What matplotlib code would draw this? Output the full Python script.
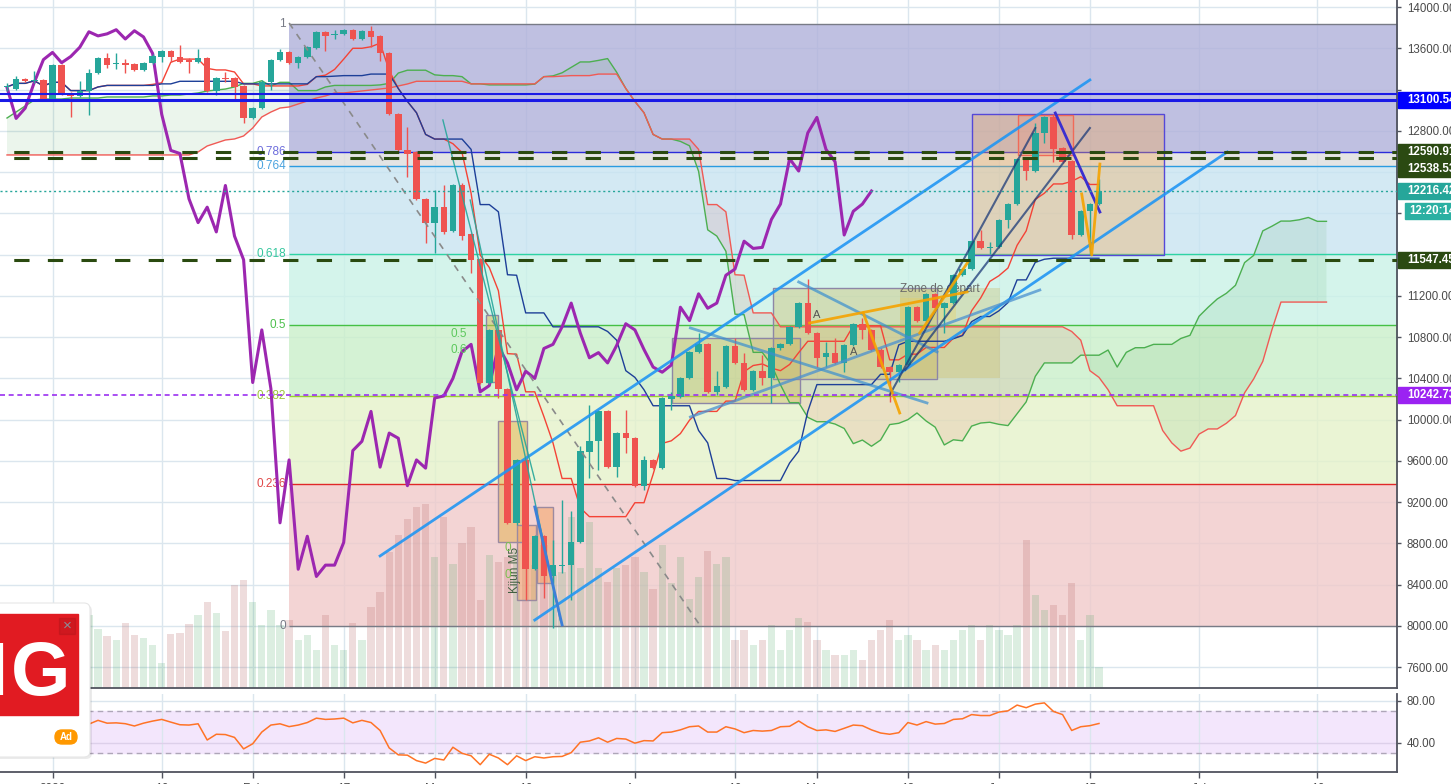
import numpy as np
import pandas as pd
import matplotlib
matplotlib.use("Agg")
import matplotlib.pyplot as plt
from matplotlib.patches import Rectangle, FancyBboxPatch

plt.rcParams['font.family'] = ['Liberation Sans', 'DejaVu Sans']

W, H = 1451, 784

# daily DAX candles, bar 0 = 23 Dec 2019
opens = [13220, 13210, 13300, 13280, 13290, 13110, 13440, 13170, 13140, 13190,
         13360, 13510, 13450, 13460, 13450, 13390, 13460, 13520, 13570, 13520,
         13480, 13470, 13510, 13190, 13310, 13310, 13230, 12920, 13020, 13270,
         13490, 13560, 13460, 13520, 13600, 13760, 13730, 13740, 13780, 13690,
         13770, 13720, 13550, 12960, 12610, 12590, 12140, 11910, 12060, 11830,
         12270, 11800, 11560, 10360, 10870, 10300, 9000, 9610, 8550, 8870,
         8480, 8580, 8590, 8810, 9690, 9790, 10080, 9540, 9870, 9820,
         9360, 9610, 9530, 10200, 10220, 10400, 10660, 10730, 10270, 10320,
         10710, 10550, 10290, 10470, 10400, 10690, 10730, 10900, 11130, 10840,
         10610, 10650, 10550, 10720, 10930, 10870, 10680, 10510, 10460, 10530,
         11090, 10960, 11220, 11080, 11130, 11400, 11460, 11730, 11660, 11670,
         11940, 12090, 12530, 12410, 12780, 12930, 12630, 12510, 11790, 12020,
         12090]
highs = [13260, 13330, 13310, 13380, 13300, 13450, 13450, 13180, 13280, 13400,
         13520, 13550, 13550, 13500, 13460, 13470, 13540, 13580, 13580, 13630,
         13510, 13590, 13520, 13320, 13370, 13320, 13240, 13030, 13290, 13500,
         13590, 13570, 13530, 13620, 13770, 13770, 13780, 13790, 13790, 13780,
         13820, 13730, 13560, 12970, 12840, 12600, 12150, 12230, 12270, 12280,
         12290, 11810, 11570, 10880, 10880, 10310, 9620, 9620, 8880, 8880,
         8830, 9220, 9110, 9740, 10140, 10090, 10090, 9880, 10090, 9830,
         9650, 9620, 10220, 10270, 10410, 10670, 10840, 10740, 10470, 10720,
         10790, 10650, 10480, 10630, 10700, 10740, 10910, 11140, 11360, 10850,
         10750, 10790, 10730, 10940, 10990, 10880, 10690, 10520, 10540, 11100,
         11100, 11230, 11230, 11140, 11410, 11470, 11740, 11840, 11720, 11950,
         12100, 12540, 12540, 12880, 12940, 12960, 12640, 12520, 12030, 12100,
         12330]
lows = [13190, 13200, 13270, 13260, 13090, 13100, 13150, 12930, 13130, 12950,
        13350, 13410, 13400, 13360, 13380, 13380, 13450, 13470, 13470, 13460,
        13360, 13460, 13180, 13150, 13270, 13110, 12880, 12910, 13010, 13200,
        13480, 13450, 13410, 13510, 13590, 13570, 13690, 13730, 13680, 13680,
        13610, 13480, 12950, 12600, 12350, 12130, 11710, 11620, 11800, 11820,
        11740, 11420, 10350, 10350, 10210, 8990, 8980, 8250, 8540, 8270,
        7980, 8510, 8250, 8800, 9430, 9510, 9530, 9440, 9680, 9350,
        9320, 9520, 9520, 10090, 10210, 10390, 10650, 10260, 10240, 10310,
        10540, 10280, 10280, 10340, 10160, 10680, 10720, 10890, 10830, 10510,
        10510, 10540, 10460, 10710, 10780, 10670, 10500, 10170, 10370, 10520,
        10950, 10950, 11070, 10840, 11120, 11390, 11450, 11650, 11610, 11660,
        11860, 12080, 12320, 12400, 12680, 12500, 12490, 11750, 11780, 11600,
        12080]
closes = [13230, 13300, 13280, 13290, 13110, 13440, 13170, 13140, 13190, 13360,
          13510, 13440, 13460, 13440, 13390, 13460, 13530, 13570, 13520, 13470,
          13470, 13510, 13190, 13310, 13300, 13220, 12920, 13020, 13270, 13490,
          13560, 13460, 13520, 13610, 13760, 13720, 13740, 13780, 13690, 13770,
          13710, 13550, 12960, 12610, 12580, 12140, 11910, 12060, 11820, 12270,
          11780, 11550, 10360, 10870, 10300, 9000, 9610, 8550, 8870, 8480,
          8590, 8590, 8810, 9700, 9790, 10080, 9540, 9870, 9820, 9360,
          9610, 9530, 10210, 10230, 10400, 10660, 10730, 10270, 10330, 10710,
          10550, 10290, 10470, 10400, 10690, 10730, 10900, 11130, 10840, 10600,
          10650, 10550, 10720, 10930, 10870, 10680, 10510, 10460, 10530, 11090,
          10960, 11220, 11080, 11130, 11400, 11460, 11730, 11660, 11670, 11940,
          12090, 12530, 12410, 12780, 12930, 12620, 12500, 11790, 12020, 12090,
          12216.42]
volume = [58, 48, 63, 43, 68, 58, 78, 53, 48, 73, 59, 52, 48, 65, 53, 50, 43, 25, 54, 55,
          64, 73, 86, 75, 57, 103, 108, 86, 63, 78, 63, 68, 48, 53, 38, 73, 43, 38, 65, 48,
          81, 96, 136, 153, 169, 181, 184, 131, 171, 124, 145, 161, 88, 133, 126, 131, 138, 148, 123, 143,
          113, 116, 171, 120, 166, 120, 106, 120, 123, 131, 116, 99, 143, 105, 131, 89, 111, 137, 124, 131,
          48, 58, 43, 48, 63, 38, 58, 70, 66, 48, 38, 33, 33, 38, 28, 48, 58, 68, 48, 53,
          48, 38, 43, 38, 48, 58, 63, 48, 63, 58, 53, 63, 148, 93, 78, 83, 73, 105, 48, 73,
          21]

rsi_start = 9
rsi = [57.6, 61.2, 58.5, 58.8, 58.0, 55.8, 58.5, 60.5, 62.1, 59.5,
       57.0, 56.7, 57.9, 42.4, 47.9, 47.6, 44.9, 33.9, 38.8, 50.0,
       56.7, 57.9, 55.2, 56.7, 59.1, 63.3, 62.1, 62.5, 63.3, 58.8,
       61.2, 59.1, 51.5, 34.8, 28.2, 27.9, 22.7, 20.3, 24.8, 23.3,
       35.5, 29.7, 27.3, 18.8, 28.8, 25.2, 18.8, 27.3, 22.7, 26.4,
       25.2, 26.4, 26.7, 30.3, 40.3, 41.5, 44.5, 40.3, 43.9, 43.3,
       39.4, 41.8, 41.5, 49.4, 50.0, 52.1, 55.1, 55.8, 50.0, 50.0,
       55.1, 53.0, 49.4, 51.5, 50.9, 51.5, 55.1, 55.5, 60.6, 55.1,
       51.5, 52.1, 50.6, 53.6, 56.7, 56.1, 52.1, 49.1, 47.9, 49.4,
       59.1, 56.7, 60.0, 57.6, 58.2, 62.1, 62.7, 66.7, 65.8, 65.8,
       69.1, 70.3, 75.8, 73.3, 76.7, 77.9, 69.7, 66.7, 51.5, 55.1,
       56.1, 58.2]

# cloud values that come from bars before the visible window
spana_early = [12924, 12982, 13041, 13099, 13108, 13108, 13108, 13118, 13118, 13118,
               13118, 13128, 13128, 13128, 13128, 13128, 13138, 13138, 13147, 13147,
               13157, 13167, 13186, 13196, 13205]
spanb_early = [12566, 12566, 12566, 12566, 12566, 12566, 12566, 12566, 12566, 12566,
               12566, 12566, 12566, 12566, 12566, 12566, 12566, 12566, 12566, 12566,
               12566, 12595, 12653, 12682, 12711, 12721, 12750, 12827, 12934, 12982,
               13021, 13031, 13060, 13089, 13118, 13138, 13167, 13167, 13176, 13186,
               13196, 13205, 13215, 13234, 13254]

date_ticks = [5, 17, 27, 37, 47, 57, 69, 80, 89, 99, 109, 119, 131, 144]
date_labels = ["2020", "16", "Feb", "17", "Mar", "16", "Apr", "16", "May", "18", "Jun", "15", "Jul", "16"]
price_ticks = list(range(7600, 14001, 400))

fib_high = 13840
fib_low = 8000
fib_start = 31
fib_levels = [1, 0.786, 0.764, 0.618, 0.5, 0.382, 0.236, 0]
fib_texts = ["1", "0.786", "0.764", "0.618", "0.5", "0.382", "0.236", "0"]

tags = [(13100.54, "13100.54", "#0000ff"), (12590.91, "12590.91", "#2b4a12"),
        (12538.53, "12538.53", "#2b4a12"), (12216.42, "12216.42", "#26a69a"),
        (11547.45, "11547.45", "#2b4a12"), (10242.73, "10242.73", "#9b22f2")]

# chart drawings, anchors as (bar, price)
channel_lines = [([41.0, 119.0], [8679, 13293]), ([58.0, 134.1], [8058, 12595])]
support_line = ([75.1, 113.5], [10026, 11257])
falling_lines = [([75.1, 101.1], [10889, 10162]), ([87.0, 102.2], [11335, 10656])]
wedge_lines = [([97.0, 113.0], [10239, 12827]), ([98.7, 119.0], [10482, 12827])]
drop_lines = [([47.9, 58.0], [12905, 9415]), ([50.9, 60.8], [12129, 8058])]
m5_line = ([58.0, 61.0], [9154, 8010])
swing_line = ([115.2, 120.1], [12973, 12013])
orange_lines = [([88.2, 105.5], [10937, 11238]), ([94.1, 98.1], [11034, 10065]),
                ([100.3, 105.6], [10840, 11528]), ([118.1, 119.2, 120.1], [12188, 11596, 12478])]
fib_diag = ([31.0, 76.2], [13845, 8000])
boxes = [(73.1, 10792, 87.1, 10162), (84.2, 11276, 102.2, 10394), (98.1, 11276, 109.1, 10404),
         (106.0, 12963, 127.1, 11596), (111.1, 12953, 117.1, 12566), (52.6, 11015, 54.0, 10365),
         (54.0, 9987, 57.1, 8815), (58.2, 9154, 60.0, 8417), (56.0, 8979, 58.1, 8252),
         (98.1, 11180, 104.3, 10966)]
box_face = ["#c9b458", "#c9b458", "#c9b458", "#f4a850", "#f28a70", "#d9b74c", "#e3b04a", "#f3a05a", "#f3a05a", "#e8d060"]
box_alpha = [0.4, 0.35, 0.3, 0.35, 0.25, 0.5, 0.5, 0.5, 0.45, 0.35]
box_edge = ["#8d86a6", "#8d86a6", "none", "#5548d8", "#f06a58", "#8d86a6", "#9c8aa0", "#9c8aa0", "#9c8aa0", "none"]

XLIM = (-0.77, 152.75)
YLIM = (7399, 14068)


def setup_axes(fig):
    rect = [0, 96 / H, 1397 / W, 688 / H]
    ax_bg = fig.add_axes(rect)
    ax_vol = fig.add_axes(rect, sharex=ax_bg)
    ax = fig.add_axes(rect, sharex=ax_bg)
    ax_rsi = fig.add_axes([0, 12 / H, 1397 / W, 78 / H], sharex=ax_bg)
    ax_bg.set_zorder(0)
    ax_vol.set_zorder(1)
    ax.set_zorder(2)
    for a in (ax_vol, ax):
        a.patch.set_visible(False)
    for a in (ax_bg, ax_vol):
        a.axis('off')
    ax_bg.set_xlim(*XLIM)
    ax_bg.set_ylim(*YLIM)
    ax.set_ylim(*YLIM)
    ax_vol.set_ylim(0, 688)
    ax_rsi.set_ylim(11.8, 86.4)
    for a in (ax, ax_rsi):
        for s in ('top', 'left'):
            a.spines[s].set_visible(False)
        for s in ('right', 'bottom'):
            a.spines[s].set_color('#50535e')
            a.spines[s].set_linewidth(1.3)
    return ax_bg, ax_vol, ax, ax_rsi


def draw_background(ax_bg, ax_rsi):
    for t in date_ticks:
        ax_bg.axvline(t, color='#dbe6ee', lw=1, zorder=0.5)
        ax_rsi.axvline(t, color='#dbe6ee', lw=1, zorder=0.5)
    for p in price_ticks:
        ax_bg.axhline(p, color='#dbe6ee', lw=1, zorder=0.5)
    fills = ["#b0b1da", "#dedede", "#c8e4f1", "#caf2e7", "#caefca", "#e5f2ca", "#f0caca"]
    prices = [fib_low + lv * (fib_high - fib_low) for lv in fib_levels]
    for k in range(len(fills)):
        ax_bg.fill_between([fib_start, 160], prices[k + 1], prices[k], color=fills[k], alpha=0.8, lw=0, zorder=1)
    # rsi panel
    ax_rsi.axhspan(30, 70, color='#f3e6fc', zorder=0.3)
    ax_rsi.axhline(80, color='#dbe6ee', lw=1, zorder=0.5)
    ax_rsi.axhline(40, color='#ddd0ea', lw=1, zorder=0.5)
    for lv in (70, 30):
        ax_rsi.axhline(lv, color='#aea6b8', lw=1, ls=(0, (4, 3)), zorder=1)
    ax_rsi.plot(np.arange(rsi_start, rsi_start + len(rsi)), rsi, color='#ff7326', lw=1.1, zorder=3)


def draw_fib(ax):
    line_cols = ['#787b86', '#2b2bd9', '#2a9be0', '#2ed3a4', '#45c045', '#9acd32', '#e02828', '#787b86']
    text_cols = ['#787b86', '#6d6ddc', '#4aa3df', '#35c79e', '#4cc04c', '#9cc43a', '#e04848', '#787b86']
    for lv, txt, lc, tc in zip(fib_levels, fib_texts, line_cols, text_cols):
        p = fib_low + lv * (fib_high - fib_low)
        ax.hlines(p, fib_start, 160, colors=lc, lw=1, zorder=2.5)
        ax.text(fib_start - 0.35, p, txt, ha='right', va='center', color=tc, fontsize=8.5, zorder=2.5)
    ax.plot(*fib_diag, color='#8a8a8a', lw=1.2, ls=(0, (4, 4)), zorder=8)


def draw_candles(ax, ax_vol):
    idx = np.arange(len(closes))
    o = np.array(opens, float)
    c = np.array(closes, float)
    up = c >= o
    col = np.where(up, '#26a69a', '#ef5350')
    vcol = [(0.24, 0.63, 0.35, 0.18) if u else (0.71, 0.39, 0.39, 0.22) for u in up]
    ax_vol.bar(idx, volume, width=0.8, color=vcol, lw=0)
    ax.vlines(idx, lows, highs, colors=col, lw=1, zorder=6)
    ax.bar(idx, np.maximum(np.abs(c - o), 12), bottom=np.minimum(o, c), width=0.72, color=col, lw=0, zorder=7)


def draw_ichimoku(ax):
    hi = pd.Series(highs, dtype=float)
    lo = pd.Series(lows, dtype=float)
    tenkan = (hi.rolling(9, min_periods=1).max() + lo.rolling(9, min_periods=1).min()) / 2
    kijun = (hi.rolling(26, min_periods=1).max() + lo.rolling(26, min_periods=1).min()) / 2
    mid52 = (hi.rolling(52, min_periods=1).max() + lo.rolling(52, min_periods=1).min()) / 2
    shift = 25
    span_a = np.concatenate([spana_early, ((tenkan + kijun) / 2).values])
    span_b = np.concatenate([spanb_early, mid52.values[len(spanb_early) - shift:]])
    cx = np.arange(len(span_a))
    ax.fill_between(cx, span_a, span_b, where=span_a >= span_b, interpolate=True, color='#43a047', alpha=0.1, lw=0, zorder=2)
    ax.fill_between(cx, span_a, span_b, where=span_a < span_b, interpolate=True, color='#e53935', alpha=0.1, lw=0, zorder=2)
    ax.plot(cx, span_a, color='#4caf50', lw=1, zorder=4)
    ax.plot(cx, span_b, color='#f05a55', lw=1, zorder=4)
    idx = np.arange(len(closes))
    ax.plot(idx, tenkan, color='#f44336', lw=1, zorder=5)
    ax.plot(idx, kijun, color='#1d3f98', lw=1, zorder=5)
    ax.plot(idx[:-shift], np.array(closes)[shift:], color='#9c27b0', lw=2.2, zorder=5.5)


def draw_levels(ax):
    ax.axhline(13157, color='#1a1ae6', lw=1.5, zorder=9)
    ax.axhline(13100.54, color='#1a1ae6', lw=2.2, zorder=9)
    for p in (12590.91, 12538.53, 11547.45):
        ax.axhline(p, color='#2a4a10', lw=2.2, ls=(6.5, (5, 6)), zorder=9)
    ax.axhline(10242.73, color='#9b30f0', lw=1.2, ls=(0, (3, 2.2)), zorder=9)
    ax.axhline(12216.42, color='#26a69a', lw=1, ls=(0, (1.5, 2)), zorder=9)


def draw_drawings(ax):
    for (x0, p0, x1, p1), fc, al, ec in zip(boxes, box_face, box_alpha, box_edge):
        ax.add_patch(Rectangle((x0, p1), x1 - x0, p0 - p1, facecolor=fc, alpha=al, lw=0, zorder=3))
        if ec != 'none':
            ax.add_patch(Rectangle((x0, p1), x1 - x0, p0 - p1, fill=False, edgecolor=ec, lw=1, zorder=3.1))
    for xs, ps in channel_lines:
        ax.plot(xs, ps, color='#2196f3', lw=2, alpha=0.9, zorder=8)
    ax.plot(*support_line, color='#4a90d0', lw=2, alpha=0.75, zorder=8)
    for xs, ps in falling_lines:
        ax.plot(xs, ps, color='#3a8fd0', lw=2, alpha=0.7, zorder=8)
    for xs, ps in wedge_lines:
        ax.plot(xs, ps, color='#1c3a78', lw=1.5, alpha=0.75, zorder=8)
    for xs, ps in drop_lines:
        ax.plot(xs, ps, color='#26a69a', lw=1, alpha=0.9, zorder=8)
    ax.plot(*m5_line, color='#3d7fd8', lw=2, zorder=8)
    ax.plot(*swing_line, color='#3b2fd0', lw=2, zorder=8)
    for xs, ps in orange_lines:
        ax.plot(xs, ps, color='#f5a300', lw=2, alpha=0.9, zorder=8)
    ax.text(98.1, 11270, "Zone de départ", color='#6a6a6a', fontsize=8.5, va='center', zorder=5.8)
    ax.text(88.6, 11015, "A", color='#555555', fontsize=8, va='center', zorder=5.8)
    ax.text(92.6, 10656, "A", color='#555555', fontsize=8, va='center', zorder=5.8)
    ax.text(55.8, 8543, "Kijun M5", color='#3f5f3f', fontsize=8.5, rotation=90, ha='center', va='center', zorder=5.8)
    for p, t in ((10830, "0.5"), (10675, "0.6")):
        ax.text(49.6, p, t, color='#5cc85c', fontsize=8.5, ha='center', va='center', zorder=5.8)
    for p in (8754, 8494):
        ax.text(55.0, p, "0", color='#7cc050', fontsize=8.5, ha='center', va='center', zorder=5.8)


def draw_axes_labels(ax, ax_rsi, ax_px):
    placed = []
    for value, text, color in sorted(tags, key=lambda t: -t[0]):
        y = H - ax.transData.transform((0, value))[1]
        if placed and y - placed[-1][0] < 17:
            y = placed[-1][0] + 17
        placed.append((y, text, color))
    ypos = [p[0] for p in placed]
    timer_y = [p[0] for p in placed if p[1] == "12216.42"][0] + 20
    ypos.append(timer_y)

    labels = []
    for v in price_ticks:
        ty = H - ax.transData.transform((0, v))[1]
        labels.append("" if min(abs(ty - y) for y in ypos) < 15 else f"{v:.2f}")
    ax.yaxis.tick_right()
    ax.set_yticks(price_ticks)
    ax.set_yticklabels(labels)
    ax.tick_params(axis='y', length=3, width=1, color='#50535e', pad=4, labelsize=8.3, labelcolor='#4a4a4a')
    ax.tick_params(axis='x', bottom=False, labelbottom=False)

    ax_rsi.yaxis.tick_right()
    ax_rsi.set_yticks([40, 80])
    ax_rsi.set_yticklabels(["40.00", "80.00"])
    ax_rsi.tick_params(axis='y', length=3, width=1, color='#50535e', pad=4, labelsize=8.3, labelcolor='#4a4a4a')
    ax_rsi.set_xticks(date_ticks)
    ax_rsi.set_xticklabels(date_labels)
    ax_rsi.tick_params(axis='x', length=4, width=1, color='#50535e', pad=3.6, labelsize=8.5, labelcolor='#4a4a4a')

    for y, text, color in placed:
        ax_px.add_patch(Rectangle((1398, y - 8), 60, 16, color=color, zorder=10))
        ax_px.text(1407, y, text, color='white', fontsize=8.3, fontweight='bold', va='center', zorder=11)
    ax_px.add_patch(Rectangle((1405, timer_y - 8), 60, 16, color='#2bb0a2', zorder=10))
    ax_px.text(1409, timer_y, "12:20:14", color='white', fontsize=8.3, fontweight='bold', va='center', zorder=11)


def draw_ad(ax_px):
    ax_px.add_patch(FancyBboxPatch((-12, 605), 104, 154, boxstyle="round,pad=0,rounding_size=6",
                                   facecolor='#000000', alpha=0.08, lw=0, zorder=12))
    ax_px.add_patch(FancyBboxPatch((-12, 603), 102, 154, boxstyle="round,pad=0,rounding_size=6",
                                   facecolor='white', edgecolor='#e6e6e6', lw=0.8, zorder=12))
    ax_px.add_patch(Rectangle((-2, 614), 80, 101, color='#e11b22', zorder=13))
    ax_px.text(41, 695, "G", color='white', fontsize=55, fontweight='bold', ha='center', va='baseline', zorder=14)
    ax_px.text(8, 695, "I", color='white', fontsize=55, fontweight='bold', ha='right', va='baseline', zorder=14)
    ax_px.add_patch(Rectangle((59, 618), 16, 16, color='black', alpha=0.08, zorder=14))
    ax_px.text(67, 626, "×", color='#8a8f98', fontsize=11, ha='center', va='center', zorder=15)
    ax_px.add_patch(FancyBboxPatch((55, 730), 22, 14, boxstyle="round,pad=0,rounding_size=7",
                                   color='#ff9800', zorder=14))
    ax_px.text(66, 737.5, "Ad", color='white', fontsize=7, fontweight='bold', ha='center', va='center', zorder=15)


def main():
    fig = plt.figure(figsize=(W / 100, H / 100), dpi=100, facecolor='white')
    ax_bg, ax_vol, ax, ax_rsi = setup_axes(fig)
    draw_background(ax_bg, ax_rsi)
    draw_fib(ax)
    draw_candles(ax, ax_vol)
    draw_ichimoku(ax)
    draw_levels(ax)
    draw_drawings(ax)
    ax_bg.set_xlim(*XLIM)
    ax.set_ylim(*YLIM)

    ax_px = fig.add_axes([0, 0, 1, 1])
    ax_px.set_zorder(10)
    ax_px.patch.set_visible(False)
    ax_px.axis('off')
    ax_px.set_xlim(0, W)
    ax_px.set_ylim(H, 0)
    draw_axes_labels(ax, ax_rsi, ax_px)
    draw_ad(ax_px)
    fig.savefig("out.png", dpi=100)


if __name__ == "__main__":
    main()
